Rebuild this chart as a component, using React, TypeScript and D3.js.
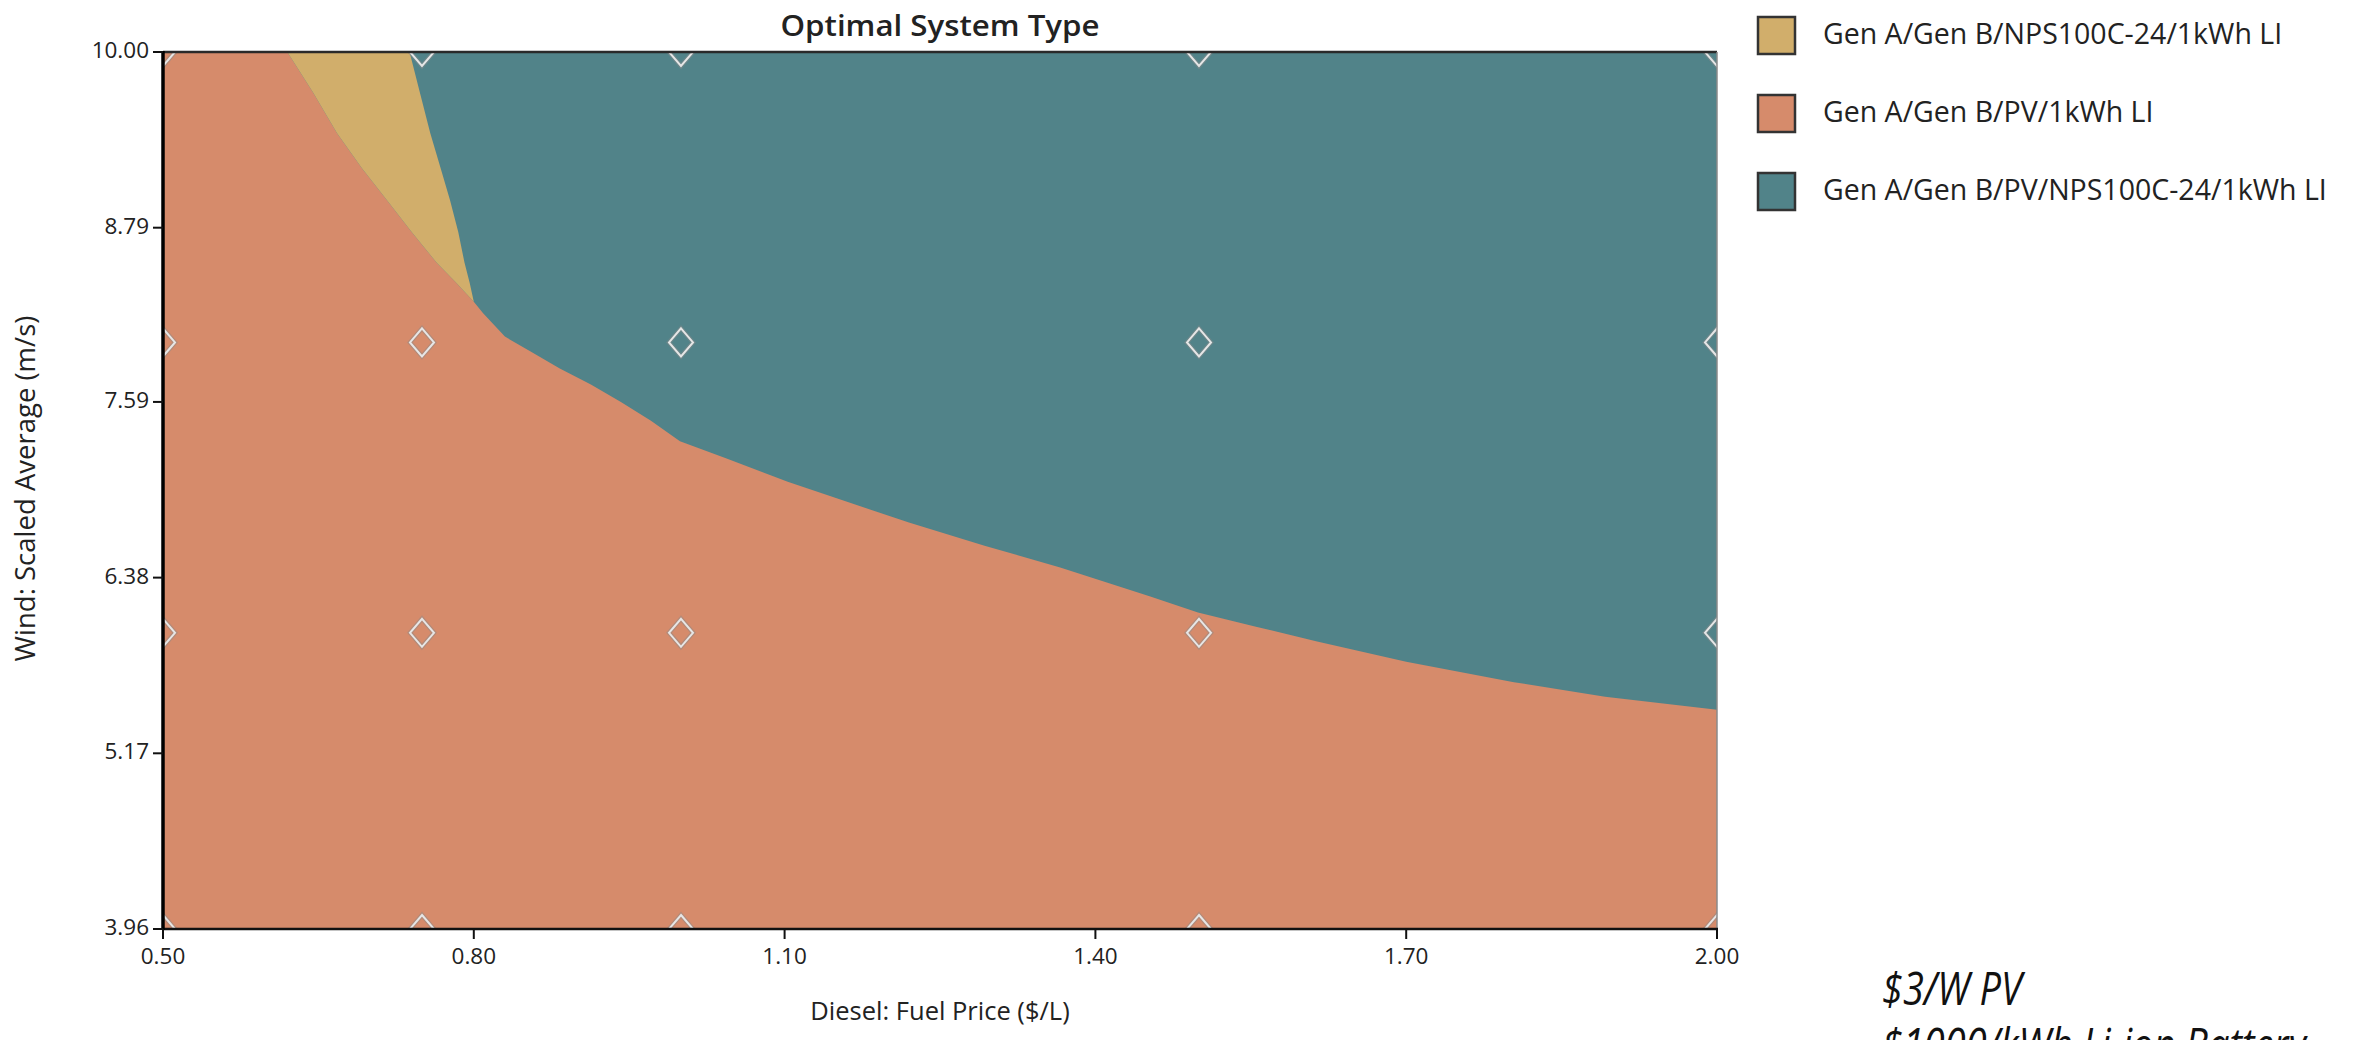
import React from "react";
import * as d3 from "d3";

// ---------- data ----------
const chartTitle = "Optimal System Type";
const xAxisTitle = "Diesel: Fuel Price ($/L)";
const yAxisTitle = "Wind: Scaled Average (m/s)";
const xTicks = [0.5, 0.8, 1.1, 1.4, 1.7, 2.0];
const yTicks = [3.96, 5.17, 6.38, 7.59, 8.79, 10.0];
const xDomain = [0.5, 2.0];
const yDomain = [3.96, 10.0];

const categories = [
  "Gen A/Gen B/NPS100C-24/1kWh LI",
  "Gen A/Gen B/PV/1kWh LI",
  "Gen A/Gen B/PV/NPS100C-24/1kWh LI",
];
const categoryColors = ["#D1AE6B", "#D68B6B", "#518389"];

// boundary between "Gen A/Gen B/PV/1kWh LI" and "Gen A/Gen B/NPS100C-24/1kWh LI"
const orangeYellowEdge: [number, number][] = [
  [0.62, 10.0], [0.645, 9.72], [0.668, 9.44], [0.692, 9.2], [0.716, 8.98],
  [0.74, 8.76], [0.764, 8.55], [0.783, 8.41], [0.8, 8.28],
];
// boundary between "Gen A/Gen B/NPS100C-24/1kWh LI" and "Gen A/Gen B/PV/NPS100C-24/1kWh LI"
const yellowTealEdge: [number, number][] = [
  [0.738, 10.0], [0.748, 9.72], [0.758, 9.44], [0.768, 9.2], [0.777, 8.98],
  [0.785, 8.76], [0.791, 8.55], [0.796, 8.41], [0.8, 8.28],
];
// boundary between "Gen A/Gen B/PV/1kWh LI" and "Gen A/Gen B/PV/NPS100C-24/1kWh LI"
const orangeTealEdge: [number, number][] = [
  [0.8, 8.28], [0.809, 8.2], [0.83, 8.04], [0.854, 7.94], [0.883, 7.82],
  [0.913, 7.71], [0.942, 7.59], [0.971, 7.46], [0.999, 7.32], [1.044, 7.2],
  [1.103, 7.04], [1.161, 6.9], [1.22, 6.76], [1.293, 6.6], [1.366, 6.45],
  [1.453, 6.25], [1.499, 6.14], [1.556, 6.04], [1.614, 5.94], [1.7, 5.8],
  [1.804, 5.66], [1.892, 5.56], [2.0, 5.47],
];

const sampleX = [0.5, 0.75, 1.0, 1.5, 2.0];
const sampleY = [3.96, 6.0, 8.0, 10.0];

const noteLines = ["$3/W PV", "$1000/kWh Li-ion Battery"];

// ---------- layout ----------
const W = 2374;
const H = 1040;
const PL = 163, PR = 1717, PT = 52, PB = 929;
const FONT = "'Open Sans', 'Noto Sans', sans-serif";

export default function App() {
  const x = d3.scaleLinear().domain(xDomain).range([PL, PR]);
  const y = d3.scaleLinear().domain(yDomain).range([PB, PT]);
  const line = d3
    .line<[number, number]>()
    .x((d) => x(d[0]))
    .y((d) => y(d[1]));

  const orangePoly: [number, number][] = [
    [xDomain[0], yDomain[0]],
    [xDomain[0], yDomain[1]],
    ...orangeYellowEdge,
    ...orangeTealEdge.slice(1),
    [xDomain[1], yDomain[0]],
  ];
  const yellowPoly: [number, number][] = [
    ...orangeYellowEdge,
    ...yellowTealEdge.slice(0, -1).reverse(),
  ];

  const dHalfW = 12;
  const dHalfH = 14;
  const diamonds: { cx: number; cy: number }[] = [];
  sampleX.forEach((sx) =>
    sampleY.forEach((sy) => diamonds.push({ cx: x(sx), cy: y(sy) }))
  );
  const diamondPath = (cx: number, cy: number) =>
    `M${cx},${cy - dHalfH}L${cx + dHalfW},${cy}L${cx},${cy + dHalfH}L${cx - dHalfW},${cy}Z`;

  const midX = (PL + PR) / 2;
  const midY = (PT + PB) / 2;

  return (
    <svg
      width={W}
      height={H}
      style={{ position: "fixed", left: 0, top: 0, background: "#fff" }}
      fontFamily={FONT}
    >
      <defs>
        <clipPath id="plotClip">
          <rect x={PL} y={PT} width={PR - PL} height={PB - PT} />
        </clipPath>
      </defs>

      {/* title */}
      <text
        x={midX}
        y={28}
        textAnchor="middle"
        fontSize={29}
        fontWeight={600}
        fill="#222"
        dominantBaseline="middle"
        textLength={319}
        lengthAdjust="spacingAndGlyphs"
      >
        {chartTitle}
      </text>

      {/* regions */}
      <g clipPath="url(#plotClip)">
        <rect x={PL} y={PT} width={PR - PL} height={PB - PT} fill={categoryColors[2]} />
        <path d={line(orangePoly) + "Z"} fill={categoryColors[1]} />
        <path d={line(yellowPoly) + "Z"} fill={categoryColors[0]} />
        {diamonds.map((d, i) => (
          <g key={i}>
            <path d={diamondPath(d.cx, d.cy)} fill="none" stroke="#8a8a8a" strokeOpacity={0.45} strokeWidth={4.5} />
            <path d={diamondPath(d.cx, d.cy)} fill="none" stroke="#e6e6e6" strokeWidth={2} />
          </g>
        ))}
      </g>

      {/* frame */}
      <line x1={PL} x2={PR} y1={PT} y2={PT} stroke="#2a2a2a" strokeWidth={2.5} />
      <line x1={PR} x2={PR} y1={PT} y2={PB} stroke="#8a8a8a" strokeWidth={1.5} />
      <line x1={PL} x2={PR + 1} y1={PB} y2={PB} stroke="#111" strokeWidth={2.5} />
      <line x1={PL} x2={PL} y1={PT - 1} y2={PB + 1} stroke="#000" strokeWidth={3.5} />

      {/* y ticks */}
      {yTicks.map((t) => (
        <g key={"y" + t}>
          <line x1={PL - 10} x2={PL} y1={y(t)} y2={y(t)} stroke="#111" strokeWidth={2} />
          <text x={PL - 14} y={y(t)} textAnchor="end" dominantBaseline="middle" fontSize={22.5} fill="#222">
            {t.toFixed(2)}
          </text>
        </g>
      ))}

      {/* x ticks */}
      {xTicks.map((t) => (
        <g key={"x" + t}>
          <line x1={x(t)} x2={x(t)} y1={PB} y2={PB + 10} stroke="#111" strokeWidth={2} />
          <text x={x(t)} y={PB + 29} textAnchor="middle" dominantBaseline="middle" fontSize={22.5} fill="#222">
            {t.toFixed(2)}
          </text>
        </g>
      ))}

      {/* axis titles */}
      <text x={midX} y={1013} textAnchor="middle" dominantBaseline="middle" fontSize={25.5} fill="#222">
        {xAxisTitle}
      </text>
      <text
        transform={`translate(28,${midY - 2}) rotate(-90)`}
        textAnchor="middle"
        dominantBaseline="middle"
        fontSize={27.5}
        fill="#222"
      >
        {yAxisTitle}
      </text>

      {/* legend */}
      {categories.map((c, i) => (
        <g key={c} transform={`translate(1758,${17 + i * 78})`}>
          <rect x={0} y={0} width={37} height={37} fill={categoryColors[i]} stroke="#333" strokeWidth={2.5} />
          <text x={65} y={19} dominantBaseline="middle" fontSize={28.5} fill="#222">
            {c}
          </text>
        </g>
      ))}

      {/* note */}
      {noteLines.map((t, i) => (
        <text
          key={t}
          transform={`translate(1882,${1005 + i * 56}) scale(1,1.2)`}
          fontSize={38}
          fontStyle="italic"
          fill="#111"
        >
          {t}
        </text>
      ))}
    </svg>
  );
}
